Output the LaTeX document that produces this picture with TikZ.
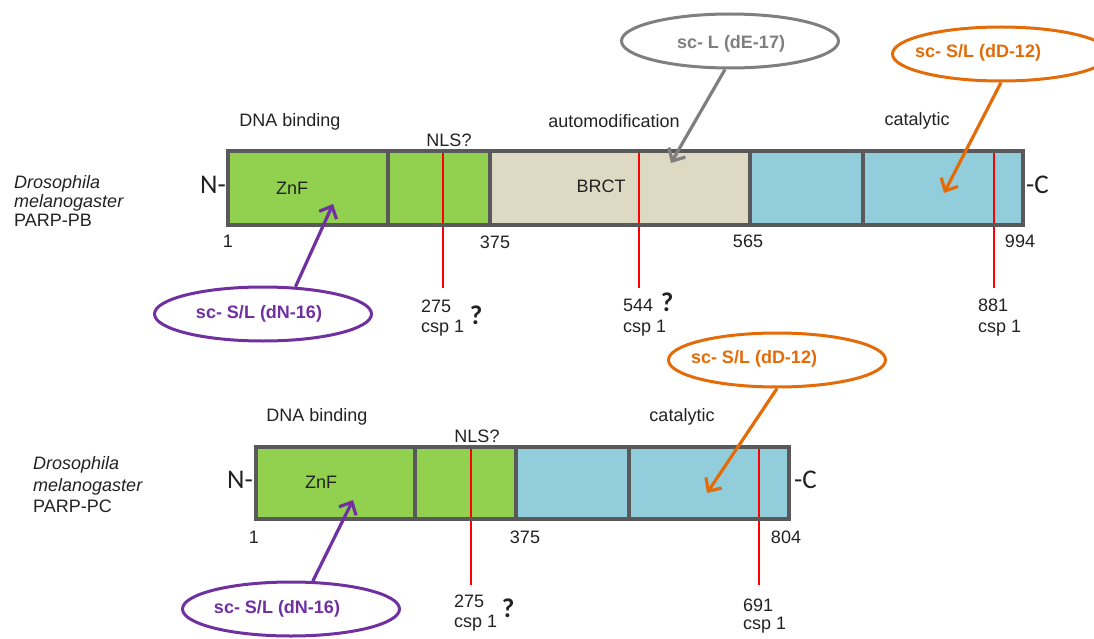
\documentclass[tikz,border=0pt]{standalone}
\usepackage{fontspec}
\setmainfont{Liberation Sans}
\newfontfamily\calib{Carlito}
\usetikzlibrary{arrows.meta,shapes.geometric}
\definecolor{zgreen}{HTML}{92D050}
\definecolor{zbeige}{HTML}{DDD9C3}
\definecolor{zblue}{HTML}{92CDDC}
\definecolor{zborder}{HTML}{595959}
\definecolor{zred}{HTML}{FF0000}
\definecolor{zpurple}{HTML}{7030A0}
\definecolor{zorange}{HTML}{E36C09}
\definecolor{zgray}{HTML}{7F7F7F}
\definecolor{ztext}{HTML}{222222}
\tikzset{
  lbl/.style={inner sep=0pt, text=ztext, font=\fontsize{18}{20}\selectfont},
  term/.style={inner sep=0pt, text=ztext, font=\calib\fontsize{27}{29}\selectfont},
  qmark/.style={inner sep=0pt, text=ztext, font=\calib\bfseries\fontsize{27}{29}\selectfont},
  species/.style={inner sep=0pt, text=ztext, align=left, anchor=west},
  seg/.style={draw=zborder, line width=3.2pt},
  cut/.style={draw=zred, line width=2pt},
  ell/.style={ellipse, draw=#1, line width=3pt, minimum width=217pt, minimum height=54pt, inner sep=0pt},
  elltext/.style={inner sep=0pt, text=#1, font=\bfseries\fontsize{18}{20}\selectfont},
  pointer/.style={draw=#1, line width=3.2pt, -{Straight Barb[length=10pt,width=19pt,line width=3.2pt]}},
}
\begin{document}
\begin{tikzpicture}[x=1pt,y=-1pt]
\useasboundingbox (0,0) rectangle (1094,639);
\clip (0,0) rectangle (1094,639);

% ---------------- PARP-PB ----------------
\fill[zgreen] (228,151) rectangle (490,225);
\fill[zbeige] (490,151) rectangle (750,225);
\fill[zblue] (750,151) rectangle (1023,225);
\coordinate (pbr1t) at (443,151); \coordinate (pbr1b) at (443,288);
\coordinate (pbr2t) at (639,151); \coordinate (pbr2b) at (639,288);
\coordinate (pbr3t) at (994,151); \coordinate (pbr3b) at (994,288);
\draw[cut] (pbr1t) -- (pbr1b);
\draw[cut] (pbr2t) -- (pbr2b);
\draw[cut] (pbr3t) -- (pbr3b);
\draw[seg] (228,151) rectangle (1023,225);
\draw[seg] (388,151) -- (388,225);
\draw[seg] (490,151) -- (490,225);
\draw[seg] (750,151) -- (750,225);
\draw[seg] (863,151) -- (863,225);

\node[species, font=\fontsize{18}{19}\selectfont] (spb) at (14,201) {\textit{Drosophila}\\\textit{melanogaster}\\PARP-PB};
\node[term, anchor=east] (pbn) at (226,185) {N-};
\node[term, anchor=west] (pbc) at (1026,185) {-C};

\node[lbl] (pbdna) at (290,122) {DNA binding};
\node[lbl] (pbnls) at (449,140) {NLS?};
\node[lbl] (pbauto) at (614,121) {automodification};
\node[lbl] (pbcat) at (917,121) {catalytic};
\node[lbl] (pbznf) at (292,188) {ZnF};
\node[lbl] (pbbrct) at (601,186) {BRCT};

\node[lbl] (pb1) at (228,241) {1};
\node[lbl] (pb375) at (495,242) {375};
\node[lbl] (pb565) at (748,241) {565};
\node[lbl] (pb994) at (1020,241) {994};

\node[lbl, anchor=west] (pb275) at (421,306) {275};
\node[lbl, anchor=west] (pb275c) at (421,328) {csp 1};
\node[qmark] (pb275q) at (476,315) {?};
\node[lbl, anchor=west] (pb544) at (623,305) {544};
\node[lbl, anchor=west] (pb544c) at (623,328) {csp 1};
\node[qmark] (pb544q) at (667,302) {?};
\node[lbl, anchor=west] (pb881) at (978,305) {881};
\node[lbl, anchor=west] (pb881c) at (978,328) {csp 1};

% ellipses PB
\node[ell=zgray] (egray) at (730,41) {};
\node[elltext=zgray] (egrayt) at (731,44) {sc- L (dE-17)};
\node[ell=zorange] (eoran1) at (1001,54) {};
\node[elltext=zorange] (eoran1t) at (978,53) {sc- S/L (dD-12)};
\node[ell=zpurple] (epurp1) at (263,314) {};
\node[elltext=zpurple] (epurp1t) at (259,314) {sc- S/L (dN-16)};

\coordinate (tgray) at (671,163);
\coordinate (toran1) at (944,193);
\coordinate (tpurp1) at (333,204);
\draw[pointer=zgray] (egray.-100) -- (tgray);
\draw[pointer=zorange] (eoran1.-90) -- (toran1);
\draw[pointer=zpurple] (epurp1.40) -- (tpurp1);

% ---------------- PARP-PC ----------------
\fill[zgreen] (256,447) rectangle (516,519);
\fill[zblue] (516,447) rectangle (789,519);
\coordinate (pcr1t) at (471,447); \coordinate (pcr1b) at (471,585);
\coordinate (pcr2t) at (759,447); \coordinate (pcr2b) at (759,585);
\draw[cut] (pcr1t) -- (pcr1b);
\draw[cut] (pcr2t) -- (pcr2b);
\draw[seg] (256,447) rectangle (789,519);
\draw[seg] (415,447) -- (415,519);
\draw[seg] (516,447) -- (516,519);
\draw[seg] (629,447) -- (629,519);

\node[species, font=\fontsize{18}{21.5}\selectfont] (spc) at (33,485) {\textit{Drosophila}\\\textit{melanogaster}\\PARP-PC};
\node[term, anchor=east] (pcn) at (253,480) {N-};
\node[term, anchor=west] (pcc) at (794,480) {-C};

\node[lbl] (pcdna) at (317,417) {DNA binding};
\node[lbl] (pcnls) at (477,436) {NLS?};
\node[lbl] (pccat) at (682,417) {catalytic};
\node[lbl] (pcznf) at (321,482) {ZnF};

\node[lbl] (pc1) at (254,537) {1};
\node[lbl] (pc375) at (525,537) {375};
\node[lbl] (pc804) at (786,537) {804};

\node[lbl, anchor=west] (pc275) at (454,601) {275};
\node[lbl, anchor=west] (pc275c) at (454,623) {csp 1};
\node[qmark] (pc275q) at (508,608) {?};
\node[lbl, anchor=west] (pc691) at (743,605) {691};
\node[lbl, anchor=west] (pc691c) at (743,625) {csp 1};

% ellipses PC
\node[ell=zorange] (eoran2) at (777,360) {};
\node[elltext=zorange] (eoran2t) at (754,359) {sc- S/L (dD-12)};
\node[ell=zpurple] (epurp2) at (291,609) {};
\node[elltext=zpurple] (epurp2t) at (277,609) {sc- S/L (dN-16)};

\coordinate (toran2) at (707,493);
\coordinate (tpurp2) at (353,500);
\draw[pointer=zorange] (eoran2.-90) -- (toran2);
\draw[pointer=zpurple] (epurp2.52) -- (tpurp2);
\end{tikzpicture}
\end{document}
